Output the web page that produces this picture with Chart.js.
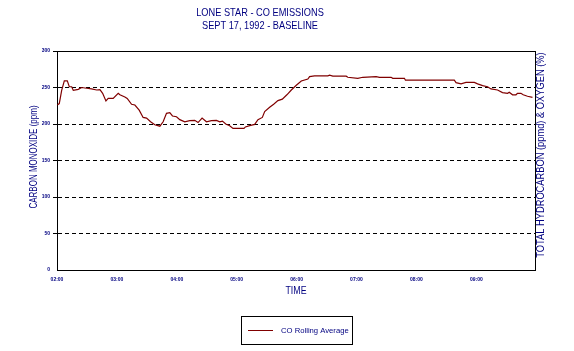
<!DOCTYPE html>
<html>
<head>
<meta charset="utf-8">
<script src="https://cdn.jsdelivr.net/npm/chart.js@4.4.1/dist/chart.umd.min.js"></script>
<style>
	body { margin: 0; background: #fff; }
	#wrap { width: 574px; height: 351px; }
</style>
</head>
<body>
<div id="wrap"><canvas id="chart"></canvas></div>
<script>
// DATA
const titleLines = ["LONE STAR - CO EMISSIONS", "SEPT 17, 1992 - BASELINE"];
const xTitle = "TIME";
const yTitle = "CARBON MONOXIDE (ppm)";
const y2Title = "TOTAL HYDROCARBON (ppmd) & OXYGEN (%)";
const seriesLabel = "CO Rolling Average";
const yTicks = [0, 50, 100, 150, 200, 250, 300];
const timeTicks = [2, 3, 4, 5, 6, 7, 8, 9];

// time of day in hours, CO rolling average in ppm
const hours = [
	2.005, 2.038, 2.078, 2.122, 2.172, 2.205, 2.245, 2.272, 2.355, 2.412, 2.495, 2.578, 2.662,
	2.717, 2.762, 2.817, 2.855, 2.938, 3.022, 3.05, 3.133, 3.172, 3.245, 3.3, 3.372, 3.438,
	3.495, 3.562, 3.633, 3.717, 3.772, 3.828, 3.883, 3.928, 3.995, 4.05, 4.133, 4.217, 4.3,
	4.355, 4.422, 4.495, 4.578, 4.662, 4.717, 4.762, 4.817, 4.883, 4.938, 5.122, 5.145, 5.217,
	5.3, 5.355, 5.428, 5.467, 5.55, 5.617, 5.688, 5.762, 5.838, 5.912, 5.995, 6.078, 6.188,
	6.217, 6.3, 6.522, 6.55, 6.605, 6.828, 6.855, 7.022, 7.105, 7.328, 7.383, 7.578, 7.605,
	7.8, 7.817, 8.633, 8.662, 8.745, 8.828, 8.967, 9.022, 9.105, 9.188, 9.245, 9.355, 9.438,
	9.522, 9.55, 9.605, 9.662, 9.688, 9.745, 9.783, 9.855, 9.938,
];
const coPpm = [
	226, 228, 246, 259, 259, 251, 251, 246, 247.5, 250, 249, 248, 246.6,
	247, 242, 231.5, 235, 235, 242, 240, 237, 235, 227, 226, 219, 209,
	208, 203, 199, 197, 203, 214.6, 215.5, 211, 210, 206, 203, 204.5, 205,
	202, 208, 203, 204.5, 205, 203, 204, 200, 197.7, 194, 194, 196, 197.7,
	199.5, 206, 209, 217, 223, 227, 232, 234, 240, 246.6, 253, 259, 261.6,
	265, 266, 266, 267, 265.5, 265.5, 264, 262.6, 264, 265, 264, 264, 262.6,
	262.6, 260, 260, 256.6, 255, 257, 257, 255, 252.5, 251, 248, 246.6, 243,
	242, 243.6, 240, 240, 242, 242, 240, 238, 236.5,
];

const navy = "#000080";
const fontFamily = "'Liberation Sans', Arial, sans-serif";

const pad2 = (n) => String(n).padStart(2, "0");

// the original uses a narrow screen font, so squeeze the text along its baseline
const squeezedText = (ctx, text, x, y, size, squeeze, rotation = 0) => {
	ctx.save();
	ctx.translate(x, y);
	ctx.rotate(rotation);
	ctx.scale(squeeze, 1);
	ctx.font = `${size}px ${fontFamily}`;
	ctx.fillText(text, 0, 0);
	ctx.restore();
};

// titles, axis captions and the boxed legend
const annotations = {
	id: "annotations",
	afterDraw(chart) {
		const { ctx, chartArea } = chart;
		ctx.save();
		ctx.fillStyle = navy;
		ctx.textAlign = "center";
		ctx.textBaseline = "middle";
		titleLines.forEach((line, i) => squeezedText(ctx, line, 260, 12.5 + i * 13, 11, 0.84));

		squeezedText(ctx, xTitle, (chartArea.left + chartArea.right) / 2, 291, 10, 0.88);
		squeezedText(ctx, yTitle, 34, 157, 10, 0.8, -Math.PI / 2);
		squeezedText(ctx, y2Title, 541, 155, 10, 0.93, -Math.PI / 2);

		// frame top
		ctx.strokeStyle = "#000";
		ctx.lineWidth = 1;
		ctx.beginPath();
		ctx.moveTo(53, chartArea.top + 0.5);
		ctx.lineTo(chartArea.right, chartArea.top + 0.5);
		ctx.stroke();

		// legend
		const ds = chart.data.datasets[0];
		ctx.strokeRect(241.5, 316.5, 111, 28);
		ctx.strokeStyle = ds.borderColor;
		ctx.beginPath();
		ctx.moveTo(248, 330.5);
		ctx.lineTo(273, 330.5);
		ctx.stroke();
		ctx.textAlign = "left";
		squeezedText(ctx, ds.label, 281, 331, 8, 0.96);
		ctx.restore();
	},
};

const ctx = document.getElementById("chart").getContext("2d");
new Chart(ctx, {
	type: "line",
	data: {
		datasets: [
			{
				label: seriesLabel,
				data: hours.map((h, i) => ({ x: h, y: coPpm[i] })),
				borderColor: "#800000",
				borderWidth: 1.2,
				pointRadius: 0,
				tension: 0,
				yAxisID: "y",
			},
		],
	},
	options: {
		responsive: true,
		maintainAspectRatio: false,
		animation: false,
		layout: { padding: { top: 51, left: 0, right: 0, bottom: 0 } },
		plugins: {
			legend: { display: false },
			title: { display: false },
			tooltip: { enabled: false },
		},
		scales: {
			x: {
				type: "linear",
				min: 2,
				max: 9.98,
				afterFit: (s) => { s.height = 81; },
				afterBuildTicks: (s) => {
					s.ticks = timeTicks.map((v) => ({ value: v }));
				},
				grid: { display: false, drawTicks: false },
				border: { color: "#000", width: 1 },
				ticks: {
					color: navy,
					padding: 7,
					maxRotation: 0,
					autoSkip: false,
					font: { family: fontFamily, size: 5, weight: "bold" },
					callback: (v) => `${pad2(v)}:00`,
				},
			},
			y: {
				position: "left",
				min: 0,
				max: 300,
				afterFit: (s) => { s.width = 57; },
				afterBuildTicks: (s) => {
					s.ticks = yTicks.map((v) => ({ value: v }));
				},
				grid: {
					color: (c) => (c.tick && (c.tick.value === 0 || c.tick.value === 300) ? "transparent" : "#000"),
					tickColor: (c) => (c.tick && c.tick.value === 0 ? "transparent" : "#000"),
					tickLength: 4,
					lineWidth: 1,
				},
				border: { color: "#000", width: 1, dash: [4, 3] },
				ticks: {
					color: navy,
					padding: 3,
					font: { family: fontFamily, size: 5, weight: "bold" },
				},
			},
			y2: {
				position: "right",
				min: 0,
				max: 300,
				afterFit: (s) => { s.width = 39; },
				grid: { display: false, drawTicks: false },
				border: { color: "#000", width: 1 },
				ticks: { display: false },
			},
		},
	},
	plugins: [annotations],
});
</script>
</body>
</html>
